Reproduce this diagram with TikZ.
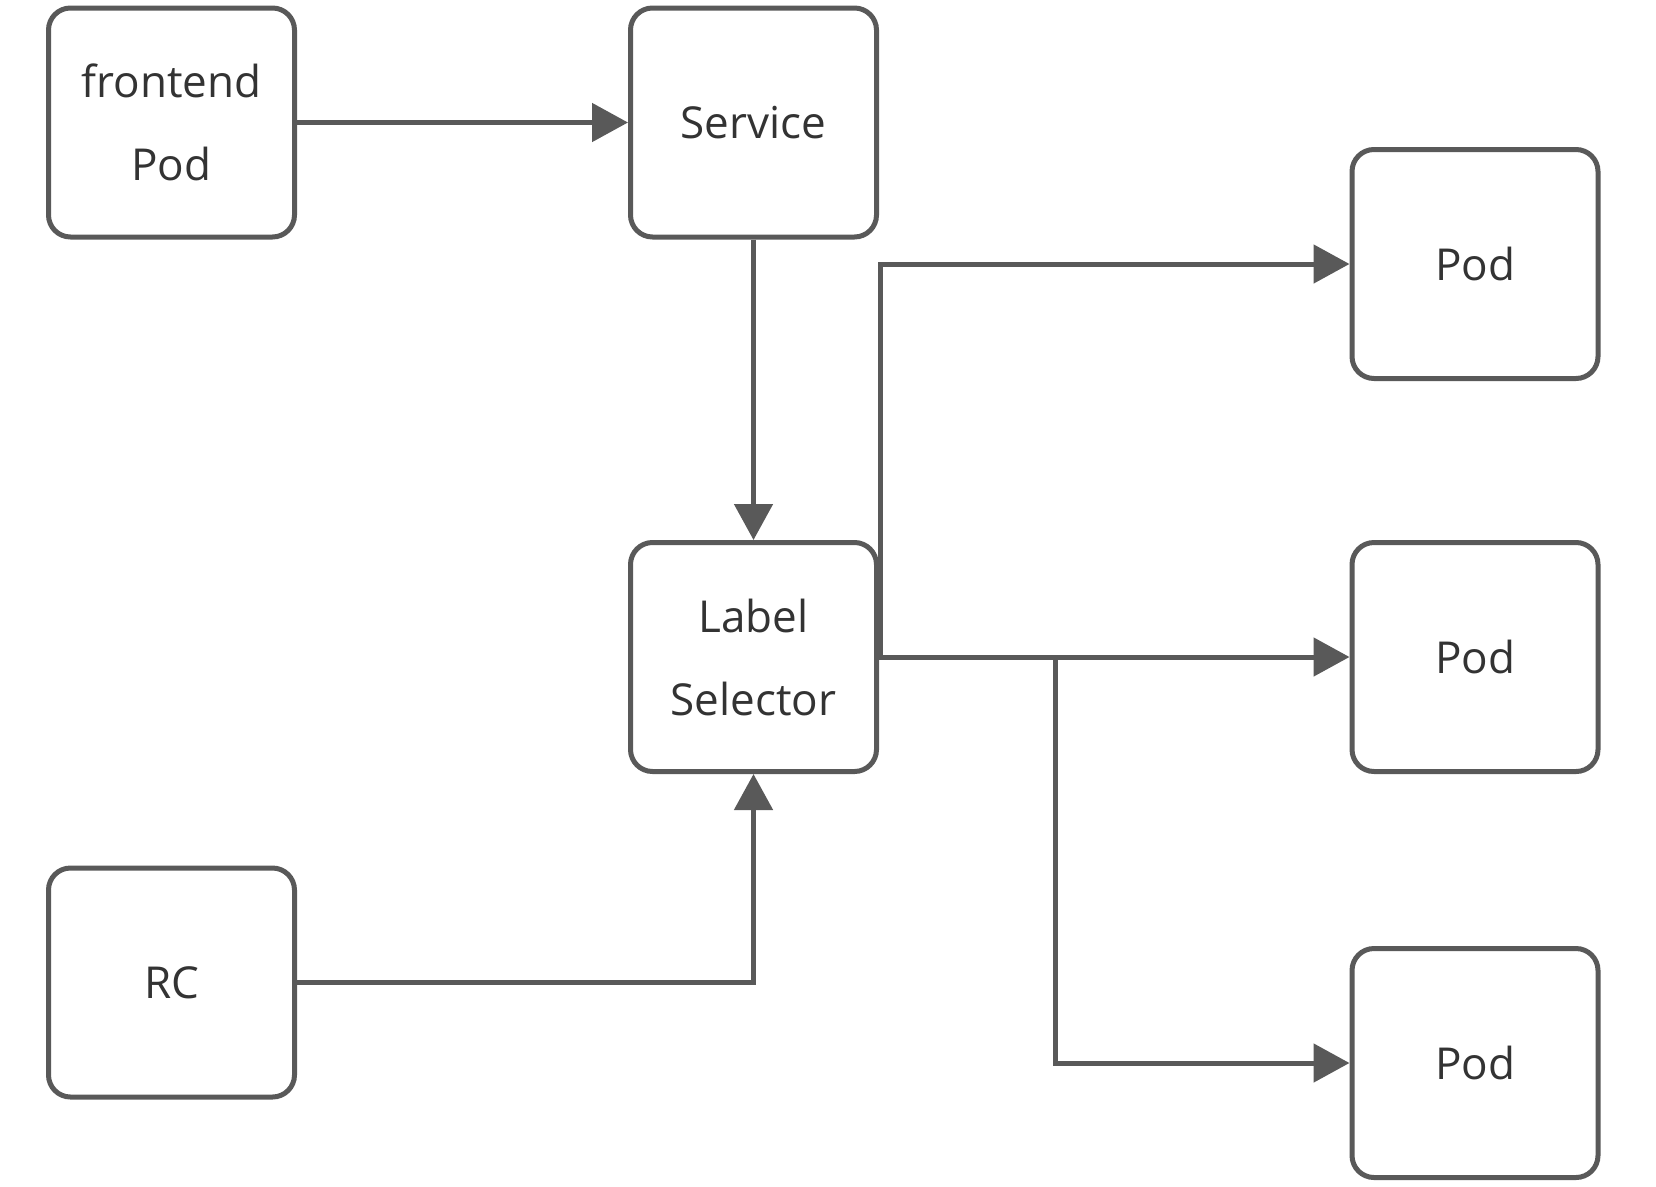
\documentclass[tikz,border=0pt]{standalone}
\usepackage{fontspec}
\setmainfont{Open Sans}
\usetikzlibrary{arrows.meta}
\definecolor{edge}{RGB}{89,89,89}
\definecolor{txt}{RGB}{51,51,51}
\begin{document}
\begin{tikzpicture}[x=1pt,y=-1pt,
  box/.style={draw=edge, line width=5pt, rounded corners=22pt, fill=white,
    minimum width=246pt, minimum height=229pt, inner sep=0pt, align=center,
    text=txt, font=\fontsize{44}{83}\selectfont},
  conn/.style={draw=edge, line width=5pt, -{Triangle[length=36pt,width=38pt]}},
  seg/.style={draw=edge, line width=5pt}]
\useasboundingbox (0,0) rectangle (1656,1186);
\node[box] (fe) at (171.5,122.5) {frontend\\Pod};
\node[box] (svc) at (753.5,122.5) {Service};
\node[box] (ls) at (753.5,657) {Label\\Selector};
\node[box] (rc) at (171.5,982.5) {RC};
\node[box] (p1) at (1475,264) {Pod};
\node[box] (p2) at (1475,657) {Pod};
\node[box] (p3) at (1475,1063) {Pod};
\coordinate (up) at (880,657);
\coordinate (br) at (1055,657);
\draw[conn] (fe.east) -- (svc.west);
\draw[conn] (svc.south) -- (ls.north);
\draw[conn] (up) -- (up |- p1.west) -- (p1.west);
\draw[conn] (ls.east) -- (p2.west);
\draw[conn] (br) -- (br |- p3.west) -- (p3.west);
\draw[conn] (rc.east) -- (rc.east -| ls.south) -- (ls.south);
\end{tikzpicture}
\end{document}
